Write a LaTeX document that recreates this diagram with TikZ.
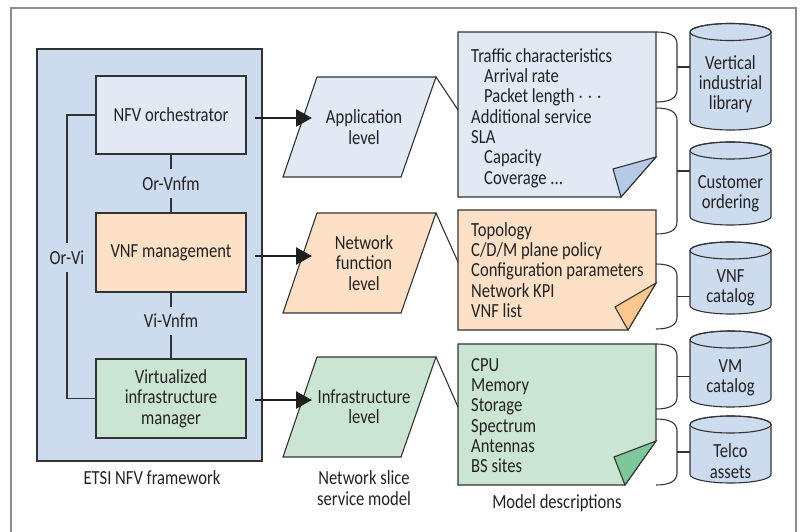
\documentclass[tikz,border=0pt]{standalone}
\usepackage{fontspec}
\setmainfont[FakeStretch=0.83]{Carlito}
\usetikzlibrary{arrows.meta}
\definecolor{txt}{HTML}{222222}
\definecolor{linec}{HTML}{333333}
\definecolor{framec}{HTML}{8C8C8C}
\definecolor{fwfill}{HTML}{CCDCEE}
\definecolor{orchfill}{HTML}{E1E9F5}
\definecolor{vnffill}{HTML}{FDE0C5}
\definecolor{vimfill}{HTML}{CBE5D3}
\definecolor{flapblue}{HTML}{B4CAE6}
\definecolor{flaporange}{HTML}{FDC88E}
\definecolor{flapgreen}{HTML}{7DC79A}
\definecolor{cylfill}{HTML}{CCDCEE}
\newcommand\mybrace[2]{\draw[conn] (656,#1) .. controls (670,#1) and (677,{#1+4}) .. (677,{#1+12}) -- (677,{#2-12}) .. controls (677,{#2-4}) and (670,#2) .. (656,#2);}
\newcommand\mycyl[5]{%
  \filldraw[conn,fill=cylfill] (690,#2) -- (690,#3) arc[start angle=180,end angle=360,x radius=40.5pt,y radius=8.5pt] -- (771,#2) arc[start angle=0,end angle=180,x radius=40.5pt,y radius=8.5pt] -- cycle;
  \draw[conn] (730.5,#2) ellipse[x radius=40.5pt,y radius=8.5pt];
  \node[plain] (#1) at (730.5,#4) {#5};
}
\begin{document}
\begin{tikzpicture}[x=1pt,y=-1pt,
  font=\fontsize{20}{20.3}\selectfont,
  conn/.style={draw=linec,line width=1.1pt},
  plain/.style={text=txt,align=center,inner sep=0pt},
  box/.style={draw=linec,line width=1.1pt,minimum width=150pt,minimum height=78pt,inner sep=0pt,align=center,text=txt},
  lbl/.style={text=txt,inner xsep=2pt,inner ysep=7pt},
  doctext/.style={text=txt,align=left,anchor=north west,inner sep=0pt},
  bigarrow/.style={line width=2.6pt,draw=black!88,-{Triangle[length=16pt,width=17pt]}}]
\useasboundingbox (0,0) rectangle (800,532);
% outer frame
\draw[draw=framec,line width=1.5pt] (11,545) -- (11,8) -- (796,8) -- (796,545);

% ETSI framework
\filldraw[conn,fill=fwfill] (37,49) rectangle (262,461);
\node[box,fill=orchfill] (orch) at (171,115) {NFV orchestrator};
\node[box,fill=vnffill,minimum height=79pt] (vnfm) at (171,252.5) {VNF management};
\node[box,fill=vimfill,minimum height=79pt] (vim) at (171,398.5) {Virtualized\\infrastructure\\manager};
\node[lbl] (orvnfm) at (171,183.5) {Or-Vnfm};
\node[lbl] (vivnfm) at (171,321) {Vi-Vnfm};
\node[lbl] (orvi) at (67,257.5) {Or-Vi};
\draw[conn] (orch.south) -- (orvnfm.north);
\draw[conn] (orvnfm.south) -- (vnfm.north);
\draw[conn] (vnfm.south) -- (vivnfm.north);
\draw[conn] (vivnfm.south) -- (vim.north);
\draw[conn] (orch.west) -| (orvi.north);
\draw[conn] (orvi.south) |- (vim.west);
\node[plain] (etsi) at (152,478) {ETSI NFV framework};

% parallelograms
\filldraw[conn,fill=orchfill] (317,77) -- (436,77) -- (401,177) -- (283,177) -- cycle;
\filldraw[conn,fill=vnffill] (317,213) -- (436,213) -- (401,313) -- (283,313) -- cycle;
\filldraw[conn,fill=vimfill] (317,357) -- (436,357) -- (401,457) -- (283,457) -- cycle;
\node[plain] (applvl) at (364,127) {Application\\level};
\node[plain] (nflvl) at (364,263) {Network\\function\\level};
\node[plain] (inflvl) at (364,407) {Infrastructure\\level};
\node[plain] (nssm) at (364,488) {Network slice\\service model};

% arrows
\coordinate (a1s) at (255,118); \coordinate (a1e) at (312,118);
\coordinate (a2s) at (255,256); \coordinate (a2e) at (312,256);
\coordinate (a3s) at (255,400); \coordinate (a3e) at (312,400);
\draw[bigarrow] (a1s) -- (a1e);
\draw[bigarrow] (a2s) -- (a2e);
\draw[bigarrow] (a3s) -- (a3e);

% documents
\filldraw[conn,fill=orchfill] (458,32) -- (656,32) -- (656,157) -- (621,197) -- (458,197) -- cycle;
\filldraw[conn,fill=flapblue] (613,169) -- (656,157) -- (621,197) -- cycle;
\filldraw[conn,fill=vnffill] (458,210) -- (656,210) -- (656,283) -- (628,330) -- (458,330) -- cycle;
\filldraw[conn,fill=flaporange] (615,307) -- (656,283) -- (628,330) -- cycle;
\filldraw[conn,fill=vimfill] (458,344) -- (656,344) -- (656,441) -- (625,485) -- (458,485) -- cycle;
\filldraw[conn,fill=flapgreen] (614,457) -- (656,441) -- (625,485) -- cycle;

\node[doctext] (d1) at (471,47.8) {\strut Traffic characteristics\\\hspace*{13pt}Arrival rate\\\hspace*{13pt}Packet length\,$\cdots$\\Additional service\\SLA\\\hspace*{13pt}Capacity\\\hspace*{13pt}Coverage ...};
\node[doctext] (d2) at (471,221.8) {\strut Topology\\C/D/M plane policy\\Configuration parameters\\Network KPI\\VNF list};
\node[doctext] (d3) at (471,356.8) {\strut CPU\\Memory\\Storage\\Spectrum\\Antennas\\BS sites};
\node[plain] (mdesc) at (557,503) {Model descriptions};

% parallelogram to document connectors
\coordinate (p1) at (436,77); \coordinate (q1) at (458,110);
\coordinate (p2) at (436,213); \coordinate (q2) at (458,262);
\coordinate (p3) at (436,357); \coordinate (q3) at (458,407);
\draw[conn] (p1) -- (q1);
\draw[conn] (p2) -- (q2);
\draw[conn] (p3) -- (q3);

% braces
\mybrace{32}{102}
\mybrace{108}{234}
\mybrace{264}{329}
\mybrace{344}{409}
\mybrace{419}{485}

% cylinders
\mycyl{c1}{32}{121.5}{84}{Vertical\\industrial\\library}
\mycyl{c2}{150.5}{216.5}{194}{Customer\\ordering}
\mycyl{c3}{250.5}{305.5}{288}{VNF\\catalog}
\mycyl{c4}{339.5}{398.5}{378}{VM\\catalog}
\mycyl{c5}{424.5}{474.5}{461}{Telco\\assets}

% ticks
\coordinate (b1) at (677,67); \coordinate (e1) at (690,67);
\coordinate (b2) at (677,171); \coordinate (e2) at (690,171);
\coordinate (b3) at (677,296.5); \coordinate (e3) at (690,296.5);
\coordinate (b4) at (677,376.5); \coordinate (e4) at (690,376.5);
\coordinate (b5) at (677,452); \coordinate (e5) at (690,452);
\draw[conn] (b1) -- (e1);
\draw[conn] (b2) -- (e2);
\draw[conn] (b3) -- (e3);
\draw[conn] (b4) -- (e4);
\draw[conn] (b5) -- (e5);
\end{tikzpicture}
\end{document}
